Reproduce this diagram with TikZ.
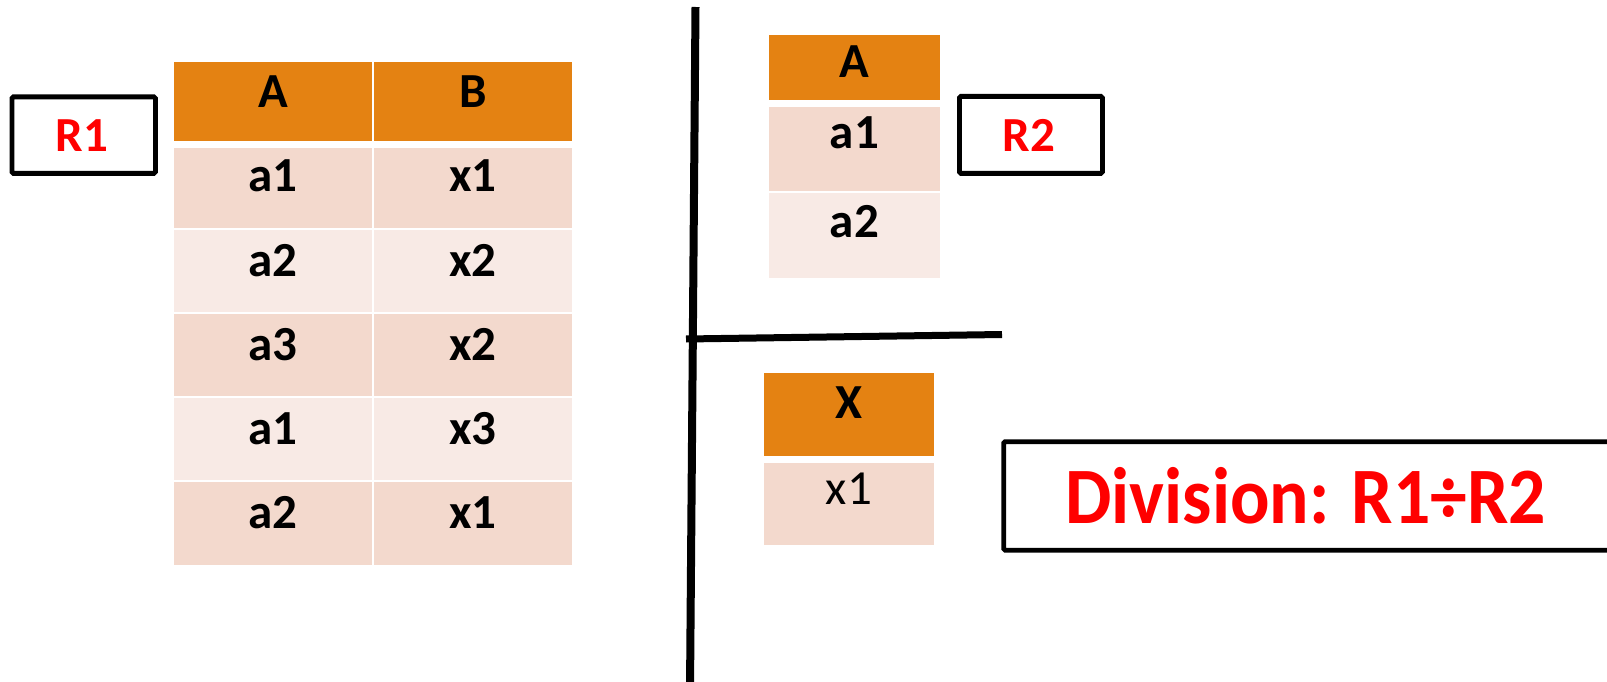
\documentclass[tikz,border=0pt]{standalone}
\usepackage{fontspec}
\setmainfont{Carlito}
\definecolor{hdrorange}{RGB}{228,130,18}
\definecolor{rowdark}{RGB}{243,217,205}
\definecolor{rowlight}{RGB}{248,234,229}
\definecolor{lblred}{RGB}{255,0,0}
\tikzset{
  cellbox/.style={draw=none, inner sep=0pt, outer sep=0pt, anchor=north west},
  hdr/.style={cellbox, fill=hdrorange},
  dark/.style={cellbox, fill=rowdark},
  light/.style={cellbox, fill=rowlight},
  celltxt/.style={inner sep=0pt, anchor=base, font=\fontsize{49}{55}\selectfont\bfseries, text=black},
  celltxtreg/.style={inner sep=0pt, anchor=base, font=\fontsize{49}{55}\selectfont, text=black},
  namebox/.style={draw=black, line width=4.8pt, rounded corners=1.5pt, inner sep=0pt, fill=white},
  nametxt/.style={inner sep=0pt, anchor=base, font=\fontsize{49}{55}\selectfont\bfseries, text=lblred},
  divline/.style={draw=black, line width=8pt},
}
% #1 name, #2 x, #3 y, #4 w, #5 h, #6 style, #7 text, #8 baseline offset, #9 text style
\newcommand\mycell[9]{%
  \node[#6, minimum width=#4pt, minimum height=#5pt] (#1) at (#2,#3) {};
  \node[#9] (#1t) at ([yshift=-#8pt]#1.north) {#7};
}
\begin{document}
\begin{tikzpicture}[x=1pt,y=-1pt]
\useasboundingbox (0,0) rectangle (1607,682);
\clip (0,0) rectangle (1607,682);
% R1 table
\mycell{ha}{174}{62}{198}{79}{hdr}{A}{46}{celltxt}
\mycell{hb}{374}{62}{198}{79}{hdr}{B}{46}{celltxt}
\mycell{a1}{174}{148}{198}{80}{dark}{a1}{44}{celltxt}
\mycell{b1}{374}{148}{198}{80}{dark}{x1}{44}{celltxt}
\mycell{a2}{174}{230}{198}{82}{light}{a2}{46}{celltxt}
\mycell{b2}{374}{230}{198}{82}{light}{x2}{46}{celltxt}
\mycell{a3}{174}{314}{198}{82}{dark}{a3}{46}{celltxt}
\mycell{b3}{374}{314}{198}{82}{dark}{x2}{46}{celltxt}
\mycell{a4}{174}{398}{198}{82}{light}{a1}{46}{celltxt}
\mycell{b4}{374}{398}{198}{82}{light}{x3}{46}{celltxt}
\mycell{a5}{174}{482}{198}{83}{dark}{a2}{46}{celltxt}
\mycell{b5}{374}{482}{198}{83}{dark}{x1}{46}{celltxt}
% R1 label
\node[namebox, minimum width=143.5pt, minimum height=76.5pt, anchor=north west] (r1box) at (9.5,94.5) {};
\node[nametxt] (r1txt) at (82,152) {R1};
% separator lines
\coordinate (vtop) at (695.5,7);
\coordinate (vbot) at (690,690);
\coordinate (hleft) at (686,339);
\coordinate (hright) at (1002,334.5);
\draw[divline] (vtop) -- (vbot);
\draw[divline, line width=7pt] (hleft) -- (hright);
% R2 table
\mycell{rh}{769}{35}{171}{65}{hdr}{A}{43}{celltxt}
\mycell{r1}{769}{107}{171}{84}{dark}{a1}{42}{celltxt}
\mycell{r2}{769}{193}{171}{85}{light}{a2}{44}{celltxt}
% R2 label
\node[namebox, minimum width=143pt, minimum height=77pt, anchor=north west] (r2box) at (957,94) {};
\node[nametxt] (r2txt) at (1029,152) {R2};
% X table
\mycell{xh}{764}{373}{170}{83}{hdr}{X}{45}{celltxt}
\mycell{x1}{764}{463}{170}{82}{dark}{x1}{41}{celltxtreg}
% Division box
\node[namebox, minimum width=620pt, minimum height=108.5pt, anchor=north west] (divbox) at (1001.25,439.25) {};
\node[inner sep=0pt, anchor=base, font=\fontsize{80}{90}\selectfont\bfseries, text=lblred] (divtxt) at (1305.5,523.5) {\scalebox{0.92}[1]{Division: R1÷R2}};
\end{tikzpicture}
\end{document}
